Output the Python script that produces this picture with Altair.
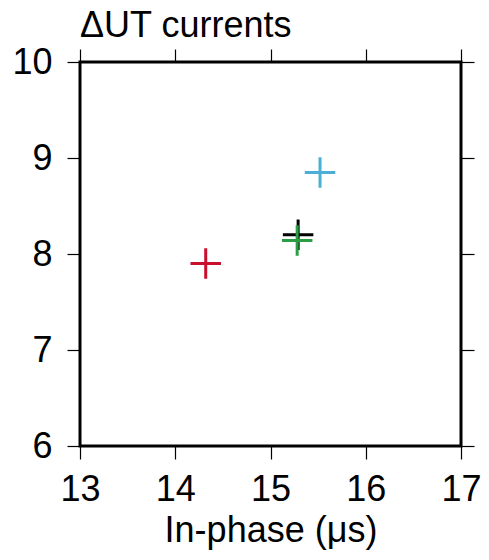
import altair as alt
import pandas as pd

series = ["Series 1", "Series 2", "Series 3", "Series 4"]
in_phase = [14.32, 15.52, 15.29, 15.28]
quadrature = [7.90, 8.85, 8.20, 8.14]
colors = ["#c8102e", "#4baed6", "#000000", "#2a9d45"]
x_ticks = [13, 14, 15, 16, 17]
y_ticks = [6, 7, 8, 9, 10]

df = pd.DataFrame({"series": series, "x": in_phase, "y": quadrature})

cross = "M-1,0L1,0M0,-1L0,1"
FONT = "Liberation Sans"

xs = alt.Scale(domain=[13, 17], nice=False, zero=False)
ys = alt.Scale(domain=[6, 10], nice=False, zero=False)
color = alt.Color("series:N", scale=alt.Scale(domain=series, range=colors), legend=None)

pts = alt.Chart(df).mark_point(
    shape=cross, filled=False, size=930, strokeWidth=3, opacity=1
).encode(
    x=alt.X("x:Q", scale=xs,
            axis=alt.Axis(orient="bottom", values=x_ticks, title="In-phase (μs)",
                          labelPadding=13, titlePadding=6)),
    y=alt.Y("y:Q", scale=ys,
            axis=alt.Axis(orient="left", values=y_ticks, title=None, labelPadding=15)),
    color=color,
)

frame = alt.Chart(df).mark_point(opacity=0).encode(
    x=alt.X("x:Q", scale=xs,
            axis=alt.Axis(orient="top", values=x_ticks, labels=False, title=None)),
    y=alt.Y("y:Q", scale=ys,
            axis=alt.Axis(orient="right", values=y_ticks, labels=False, title=None)),
)

chart = alt.layer(pts, frame).resolve_axis(
    x="independent", y="independent"
).properties(
    width=381,
    height=384,
    title=alt.TitleParams("ΔUT currents", anchor="start", frame="group",
                          font=FONT, fontSize=36, fontWeight="normal",
                          color="black", offset=-1),
    autosize=alt.AutoSizeParams(type="none"),
    padding={"left": 72, "top": 54, "right": 20, "bottom": 106},
).configure_view(
    stroke="black", strokeWidth=3
).configure_axis(
    domain=False, grid=False, ticks=True, tickColor="black", tickSize=13,
    tickWidth=1.2, labelFont=FONT, labelFontSize=36, labelColor="black",
    titleFont=FONT, titleFontSize=36, titleFontWeight="normal", titleColor="black",
    labelFlush=False, labelOverlap=False,
)

chart.save("out.html", embed_options={"renderer": "svg", "actions": False})
